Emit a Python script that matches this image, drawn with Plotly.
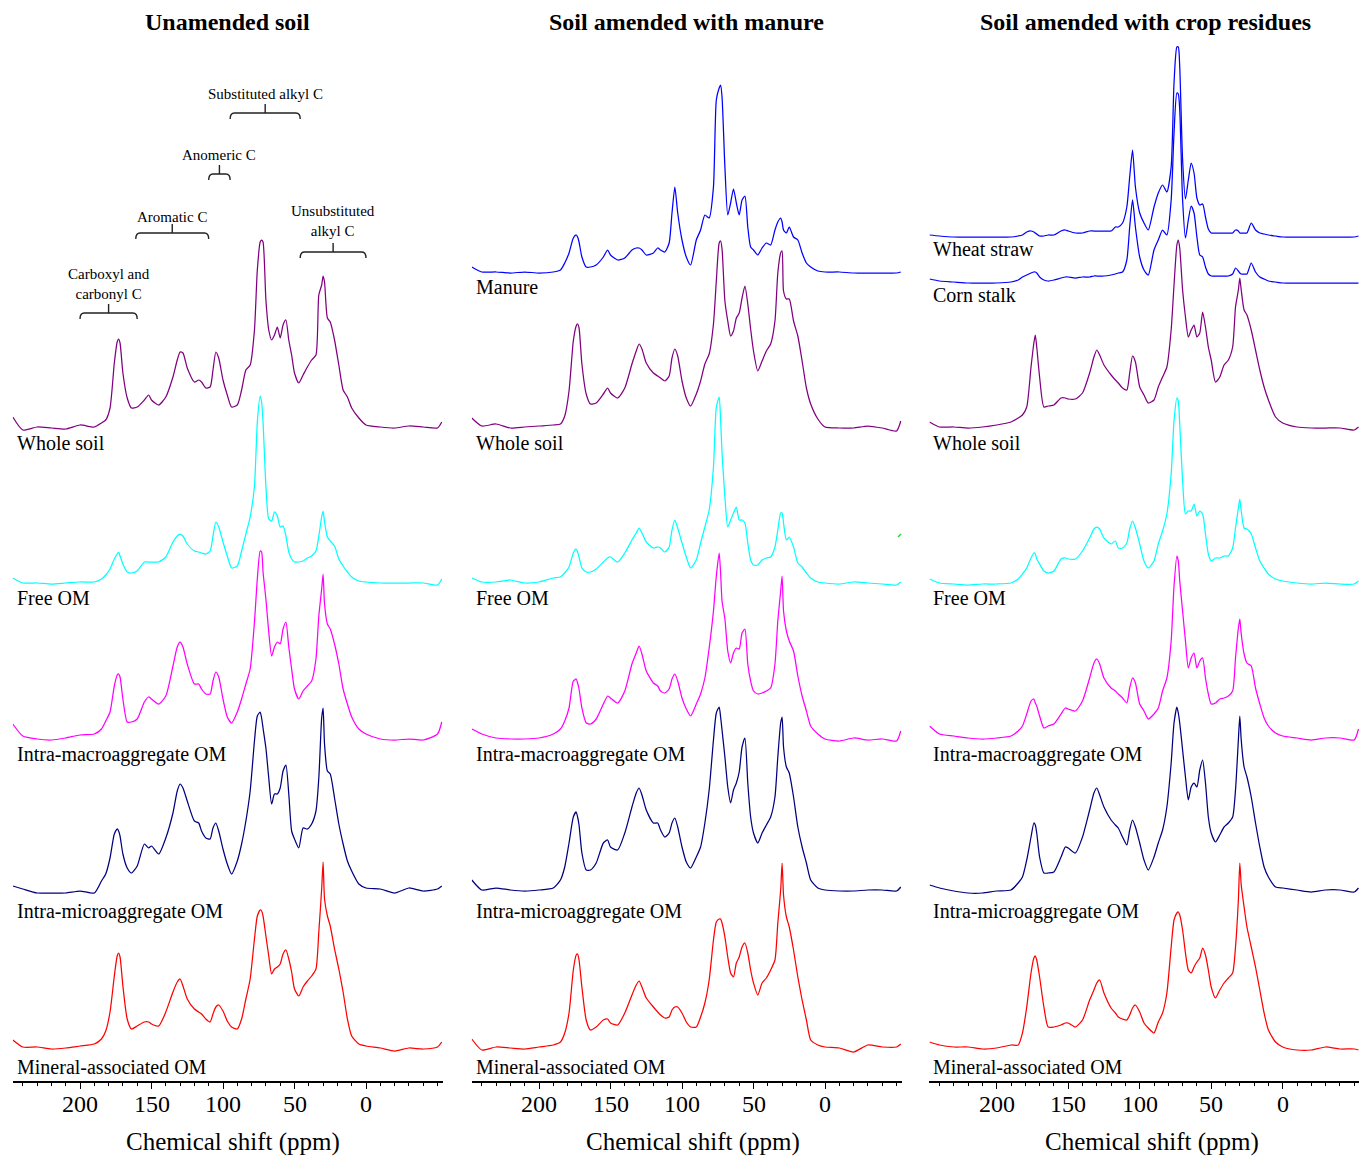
import plotly.graph_objects as go

# ---------------- data (heights above each spectrum's own baseline) -------------
ppm = [247, 240, 230, 220, 210, 200, 190, 185, 182, 179,
       176, 174, 173, 172, 170, 167, 164, 160, 155, 152,
       150, 145, 140, 135, 132, 130, 128, 125, 120, 117,
       115, 112, 109, 107, 105, 103, 100, 97, 94, 90,
       87, 84, 81, 78, 76, 74, 73, 72, 70, 68,
       66, 64, 62, 60, 58, 56, 54, 52, 50, 47,
       44, 41, 38, 35, 33, 31, 30, 29, 27, 25,
       22, 19, 16, 13, 10, 5, 0, -10, -20, -30,
       -40, -50, -53]

# Unamended soil
un_whole = [11, -2, 1, 0, -1, 3, 1, 5, 8, 20,
            65, 86, 89, 85, 55, 30, 20, 21, 28, 33,
            28, 23, 31, 51, 68, 76, 75, 60, 46, 48,
            46, 40, 41, 58, 76, 70, 48, 33, 21, 23,
            38, 58, 63, 98, 158, 186, 188, 186, 128, 98,
            88, 93, 101, 90, 103, 108, 88, 73, 55, 45,
            53, 61, 68, 73, 133, 143, 152, 146, 110, 106,
            88, 63, 38, 31, 20, 10, 3, 1, 0, 2,
            1, 0, 6]
un_free = [5, 0, 0, -1, 0, 1, 1, 4, 8, 14,
           24, 29, 31, 27, 19, 11, 10, 12, 21, 21,
           21, 21, 26, 41, 47, 49, 47, 39, 32, 31,
           30, 29, 32, 47, 61, 56, 41, 27, 15, 17,
           32, 49, 66, 97, 161, 187, 181, 161, 97, 64,
           62, 71, 67, 56, 57, 47, 31, 24, 21, 21,
           22, 25, 27, 32, 47, 66, 72, 61, 46, 42,
           37, 24, 17, 11, 6, 2, 1, 0, 0, 0,
           0, -2, 4]
un_macro = [15, 3, 0, -1, 1, 4, 5, 10, 18, 27,
            53, 64, 65, 62, 40, 17, 17, 20, 37, 42,
            40, 35, 43, 73, 92, 97, 92, 75, 55, 55,
            50, 45, 45, 58, 67, 62, 40, 22, 16, 27,
            40, 55, 70, 117, 160, 188, 187, 167, 140, 107,
            83, 92, 97, 95, 110, 117, 92, 70, 50, 40,
            48, 53, 58, 80, 123, 150, 165, 135, 115, 110,
            95, 75, 50, 35, 22, 10, 5, 0, -1, 0,
            -1, 5, 17]
un_micro = [5, 2, -2, -2, -2, 0, -2, 10, 17, 33,
            57, 62, 60, 55, 37, 23, 18, 25, 47, 43,
            45, 37, 53, 78, 100, 107, 103, 90, 70, 68,
            60, 53, 52, 63, 68, 60, 42, 27, 17, 30,
            47, 70, 100, 150, 175, 179, 173, 163, 143, 113,
            87, 97, 97, 103, 120, 126, 97, 60, 52, 43,
            63, 62, 67, 80, 113, 173, 183, 147, 120, 117,
            93, 67, 47, 30, 20, 7, 3, 2, -2, 3,
            0, 2, 5]
un_mineral = [7, 0, 0, -2, -1, 1, 3, 8, 16, 35,
              71, 91, 94, 90, 61, 28, 18, 21, 25, 25,
              23, 21, 35, 55, 65, 68, 61, 48, 38, 35,
              33, 28, 25, 33, 40, 42, 36, 26, 20, 18,
              28, 48, 68, 108, 131, 137, 136, 131, 111, 91,
              73, 78, 80, 83, 93, 97, 88, 75, 58, 51,
              60, 66, 71, 78, 115, 158, 185, 148, 131, 121,
              98, 78, 55, 28, 11, 3, 1, -1, -4, -1,
              -2, 0, 5]

# Soil amended with manure
ma_manure = [5, 0, 0, -1, 0, -1, 0, 2, 9, 19,
             34, 37, 35, 30, 15, 5, 5, 7, 15, 22,
             17, 12, 14, 22, 24, 24, 22, 17, 19, 24,
             22, 20, 29, 59, 85, 59, 32, 15, 7, 32,
             42, 57, 54, 85, 172, 184, 187, 175, 105, 57,
             69, 83, 69, 57, 72, 76, 45, 25, 22, 17,
             24, 29, 27, 42, 50, 54, 50, 42, 39, 45,
             35, 32, 19, 9, 5, 1, 0, 0, -1, -1,
             -1, -1, 0]
ma_whole = [10, 2, 4, 0, 1, 2, 3, 4, 12, 37,
            87, 102, 104, 100, 64, 34, 24, 25, 34, 40,
            35, 30, 40, 64, 77, 84, 79, 65, 55, 52,
            50, 47, 52, 70, 79, 72, 47, 30, 22, 34,
            47, 64, 74, 104, 147, 185, 187, 179, 127, 107,
            92, 97, 110, 115, 130, 142, 124, 99, 77, 57,
            67, 77, 84, 107, 155, 175, 177, 137, 129, 129,
            107, 92, 67, 40, 24, 9, 1, 0, 0, 2,
            0, -3, 7]
ma_free = [5, 1, 1, 3, 0, 1, 5, 6, 10, 16,
           30, 34, 31, 26, 15, 11, 11, 14, 21, 25,
           26, 21, 30, 43, 50, 55, 50, 41, 35, 36,
           35, 31, 36, 53, 63, 55, 40, 26, 15, 23,
           40, 56, 73, 116, 176, 186, 163, 130, 86, 56,
           63, 70, 76, 63, 63, 60, 40, 23, 18, 18,
           23, 25, 26, 36, 53, 70, 70, 60, 43, 46,
           36, 20, 16, 10, 5, 1, 0, -1, 1, 0,
           -1, -2, 1]
ma_macro = [10, 5, 1, 0, 0, 1, 5, 10, 18, 31,
            58, 60, 56, 50, 31, 16, 15, 20, 35, 43,
            41, 36, 48, 75, 86, 93, 85, 68, 56, 53,
            48, 46, 50, 60, 65, 58, 41, 30, 23, 35,
            45, 61, 91, 128, 163, 186, 166, 138, 120, 88,
            76, 86, 91, 90, 106, 110, 75, 58, 48, 45,
            46, 48, 51, 75, 118, 148, 163, 128, 108, 98,
            88, 63, 43, 28, 13, 5, 0, -2, 1, -1,
            0, -2, 8]
ma_micro = [11, 1, 3, 1, 0, 1, 3, 11, 24, 48,
            74, 79, 74, 66, 38, 21, 21, 28, 48, 51,
            44, 41, 58, 84, 98, 103, 96, 81, 68, 68,
            61, 54, 58, 68, 73, 64, 44, 29, 23, 34,
            44, 68, 101, 151, 178, 184, 174, 161, 134, 104,
            88, 101, 108, 119, 144, 153, 108, 74, 58, 48,
            58, 66, 74, 94, 134, 168, 174, 144, 124, 118,
            94, 64, 44, 28, 11, 3, 1, 0, 0, 1,
            1, 0, 4]
ma_mineral = [8, -3, 0, -1, -2, 0, 2, 5, 14, 34,
              77, 92, 93, 87, 60, 27, 17, 20, 27, 28,
              24, 22, 34, 52, 62, 66, 60, 49, 40, 35,
              32, 29, 30, 37, 40, 40, 34, 25, 20, 20,
              30, 44, 67, 107, 125, 128, 128, 124, 110, 90,
              74, 70, 84, 90, 100, 104, 94, 77, 64, 52,
              64, 69, 77, 87, 124, 157, 184, 152, 130, 120,
              97, 70, 47, 27, 7, 2, 0, -1, -5, 2,
              0, 0, 3]

# Soil amended with crop residues
cr_wheat = [2, 1, 0, 0, 0, 0, 0, 1, 2, 5,
            6, 5, 4, 3, 1, 1, 2, 2, 6, 7,
            6, 4, 4, 6, 6, 6, 6, 6, 6, 10,
            10, 14, 30, 60, 87, 50, 24, 14, 7, 30,
            44, 52, 45, 70, 154, 190, 190, 170, 77, 38,
            57, 74, 64, 39, 32, 33, 20, 8, 4, 4,
            4, 4, 4, 4, 7, 6, 4, 4, 4, 4,
            14, 7, 4, 3, 2, 1, 0, 0, 0, 0,
            0, 0, 1]
cr_corn = [3, 1, 0, -1, -1, -1, 0, 2, 5, 7,
           9, 10, 10, 9, 5, 2, 1, 2, 4, 5,
           5, 4, 5, 5, 6, 6, 6, 6, 7, 8,
           9, 10, 22, 55, 82, 55, 25, 12, 7, 32,
           42, 52, 47, 82, 149, 189, 188, 172, 82, 44,
           62, 76, 69, 45, 27, 25, 15, 8, 6, 6,
           6, 6, 6, 8, 14, 11, 9, 8, 8, 8,
           19, 10, 5, 3, 1, 0, -1, -1, -1, -1,
           -1, -1, -1]
cr_whole = [6, 1, 1, 0, 1, 3, 6, 10, 13, 21,
            61, 85, 93, 81, 51, 21, 22, 23, 30, 30,
            29, 29, 35, 55, 71, 78, 73, 63, 53, 48,
            45, 40, 38, 55, 72, 66, 41, 33, 25, 28,
            41, 51, 61, 98, 143, 183, 188, 180, 138, 111,
            91, 98, 103, 91, 95, 116, 101, 81, 68, 46,
            51, 63, 68, 81, 121, 138, 150, 138, 118, 113,
            98, 78, 58, 41, 28, 11, 5, 1, 0, 0,
            0, -2, 1]
cr_free = [4, 0, -1, -2, -1, -1, 0, 4, 9, 15,
           25, 30, 29, 24, 19, 12, 10, 12, 24, 25,
           24, 24, 32, 45, 54, 56, 54, 45, 39, 42,
           35, 35, 40, 54, 62, 55, 39, 22, 15, 22,
           39, 52, 69, 109, 162, 185, 182, 159, 102, 69,
           72, 72, 79, 67, 72, 69, 49, 29, 22, 25,
           25, 27, 27, 35, 55, 75, 84, 72, 55, 54,
           49, 35, 22, 15, 9, 4, 2, 0, -1, 0,
           -1, -1, 2]
cr_macro = [13, 5, 3, 1, 0, 1, 3, 8, 13, 25,
            38, 40, 36, 33, 23, 11, 13, 15, 25, 31,
            30, 28, 38, 61, 76, 80, 75, 61, 51, 48,
            45, 41, 36, 51, 61, 56, 35, 28, 20, 25,
            31, 48, 61, 98, 153, 183, 178, 158, 128, 98,
            71, 81, 86, 71, 78, 81, 61, 45, 35, 36,
            40, 41, 43, 48, 81, 111, 120, 105, 85, 76,
            73, 51, 35, 21, 13, 6, 3, 1, -1, 1,
            1, -1, 10]
cr_micro = [6, 3, 0, -2, -2, 0, 1, 8, 14, 31,
            54, 68, 66, 58, 34, 18, 18, 19, 34, 44,
            43, 38, 54, 81, 98, 103, 96, 84, 71, 66,
            63, 54, 46, 61, 71, 64, 48, 31, 21, 34,
            48, 61, 84, 128, 168, 184, 178, 168, 141, 114,
            91, 104, 108, 104, 121, 131, 108, 74, 58, 49,
            56, 64, 68, 74, 101, 151, 175, 151, 124, 114,
            94, 68, 44, 24, 14, 4, 3, 1, -1, 1,
            1, -1, 3]
cr_mineral = [5, 2, 0, 0, -2, -1, 2, 2, 14, 40,
              74, 89, 91, 87, 70, 40, 20, 20, 22, 24,
              24, 20, 27, 47, 57, 64, 67, 54, 39, 34,
              30, 28, 27, 32, 39, 42, 35, 24, 19, 14,
              25, 34, 54, 100, 127, 134, 135, 132, 117, 94,
              77, 74, 80, 85, 89, 99, 92, 77, 60, 49,
              57, 64, 69, 74, 100, 147, 184, 162, 140, 120,
              100, 80, 57, 34, 17, 5, 0, -3, -3, 0,
              -2, -2, -3]

# chemical-shift regions annotated on the first panel: (label, ppm start, ppm end)
regions = [
    ("Carboxyl and<br>carbonyl C", 200, 160),
    ("Aromatic C", 161, 110),
    ("Anomeric C", 110, 95),
    ("Substituted alkyl C", 95, 46),
    ("Unsubstituted<br>alkyl C", 46, 0),
]

tick_vals = [200, 150, 100, 50, 0, -50]
tick_text = ["200", "150", "100", "50", "0", ""]

# ---------------- styling / layout -------------
FONT = "Times New Roman, Liberation Serif, Times, serif"
W, H = 1363, 1160
AXIS_Y = 1081          # pixel row of the x-axis lines
PX_PER_PPM = 1.43
X_RANGE = [247, -53.5]

PURPLE, CYAN, MAGENTA, NAVY, RED, BLUE = "#800080", "#00FFFF", "#FF00FF", "#000080", "#FF0000", "#0000FF"

lower = [("Whole soil", PURPLE, 428, 443),
         ("Free OM", CYAN, 583, 598),
         ("Intra-macroaggregate OM", MAGENTA, 739, 754),
         ("Intra-microaggregate OM", NAVY, 891, 911),
         ("Mineral-associated OM", RED, 1047, 1067)]

panels = [
    dict(zero_px=366, title="Unamended soil", title_x=227, xtitle_x=233,
         spectra=[(lower[0], un_whole), (lower[1], un_free), (lower[2], un_macro),
                  (lower[3], un_micro), (lower[4], un_mineral)]),
    dict(zero_px=825, title="Soil amended with manure", title_x=686, xtitle_x=693,
         spectra=[(("Manure", BLUE, 272, 287), ma_manure),
                  (lower[0], ma_whole), (lower[1], ma_free), (lower[2], ma_macro),
                  (lower[3], ma_micro), (lower[4], ma_mineral)]),
    dict(zero_px=1282.7, title="Soil amended with crop residues", title_x=1145, xtitle_x=1152,
         spectra=[(("Wheat straw", BLUE, 237, 249), cr_wheat),
                  (("Corn stalk", BLUE, 282, 295), cr_corn),
                  (lower[0], cr_whole), (lower[1], cr_free), (lower[2], cr_macro),
                  (lower[3], cr_micro), (lower[4], cr_mineral)]),
]

fig = go.Figure()
annotations = []
shapes = []
layout_axes = {}

for i, p in enumerate(panels):
    n = "" if i == 0 else str(i + 1)
    xa, ya = "x" + n, "y" + n
    left = p["zero_px"] - X_RANGE[0] * PX_PER_PPM
    right = p["zero_px"] - X_RANGE[1] * PX_PER_PPM
    for (name, color, base_px, label_px), vals in p["spectra"]:
        assert len(vals) == len(ppm), name
        off = AXIS_Y - base_px
        fig.add_trace(go.Scatter(
            x=ppm, y=[off + v for v in vals], mode="lines",
            line=dict(color=color, width=1.25, shape="spline", smoothing=0.6),
            xaxis=xa, yaxis=ya, showlegend=False, hoverinfo="skip"))
        annotations.append(dict(
            text=name, xref="paper", yref="paper", x=(left + 2) / W, y=1 - label_px / H,
            xanchor="left", yanchor="middle", showarrow=False,
            font=dict(family=FONT, size=20, color="black")))
    annotations.append(dict(
        text="<b>%s</b>" % p["title"], xref="paper", yref="paper",
        x=p["title_x"] / W, y=1 - 22 / H, xanchor="center", yanchor="middle",
        showarrow=False, font=dict(family=FONT, size=24, color="black")))
    annotations.append(dict(
        text="Chemical shift (ppm)", xref="paper", yref="paper",
        x=p["xtitle_x"] / W, y=1 - 1142 / H, xanchor="center", yanchor="middle",
        showarrow=False, font=dict(family=FONT, size=25, color="black")))
    # tick labels placed as text on the axis' own data scale
    for v, t in zip(tick_vals, tick_text):
        if t:
            annotations.append(dict(
                text=t, xref=xa, yref="paper", x=v, y=1 - 1104 / H,
                xanchor="center", yanchor="middle", showarrow=False,
                font=dict(family=FONT, size=24, color="black")))
    layout_axes["xaxis" + n] = dict(
        domain=[left / W, right / W], range=X_RANGE, anchor=ya,
        showline=True, linecolor="black", linewidth=1.5, mirror=False,
        ticks="outside", ticklen=6, tickwidth=1.2, tickcolor="black",
        tickmode="array", tickvals=tick_vals, ticktext=tick_text,
        showticklabels=False,
        showgrid=False, zeroline=False,
        minor=dict(ticks="outside", ticklen=3, tickwidth=1, tickcolor="black",
                   tickmode="array", tickvals=list(range(-50, 250, 10)), showgrid=False))
    layout_axes["yaxis" + n] = dict(
        domain=[(H - AXIS_Y) / H, 1], range=[0, AXIS_Y], anchor=xa, visible=False,
        showgrid=False, zeroline=False)

# brackets for chemical-shift regions (panel 1)
bracket_rows = [  # (bar pixel row, label centre pixel row)
    (313, 283.5), (233, 217), (174, 155), (113, 94), (252, 221)]
R = 3.0  # ppm corner
for (label, p1, p2), (bar_px, text_px) in zip(regions, bracket_rows):
    yb = AXIS_Y - bar_px
    ye = yb - 6
    yt = yb + 9
    pc = (p1 + p2) / 2
    path = (f"M {p1},{ye} Q {p1},{yb} {p1 - R},{yb} L {p2 + R},{yb} "
            f"Q {p2},{yb} {p2},{ye} M {pc},{yb} L {pc},{yt}")
    shapes.append(dict(type="path", path=path, xref="x", yref="y",
                       line=dict(color="#222222", width=1.4)))
    annotations.append(dict(text=label, xref="x", yref="y", x=pc, y=AXIS_Y - text_px,
                            xanchor="center", yanchor="middle", showarrow=False,
                            font=dict(family=FONT, size=15, color="black")))

# small green stroke present in the original image
shapes.append(dict(type="line", xref="paper", yref="paper",
                   x0=898 / W, y0=1 - 537 / H, x1=901 / W, y1=1 - 534 / H,
                   line=dict(color="#33cc33", width=1.5)))

fig.update_layout(
    width=W, height=H, margin=dict(l=0, r=0, t=0, b=0),
    paper_bgcolor="white", plot_bgcolor="rgba(0,0,0,0)",
    showlegend=False, annotations=annotations, shapes=shapes,
    font=dict(family=FONT, color="black"), **layout_axes)

fig.write_html("out.html")
